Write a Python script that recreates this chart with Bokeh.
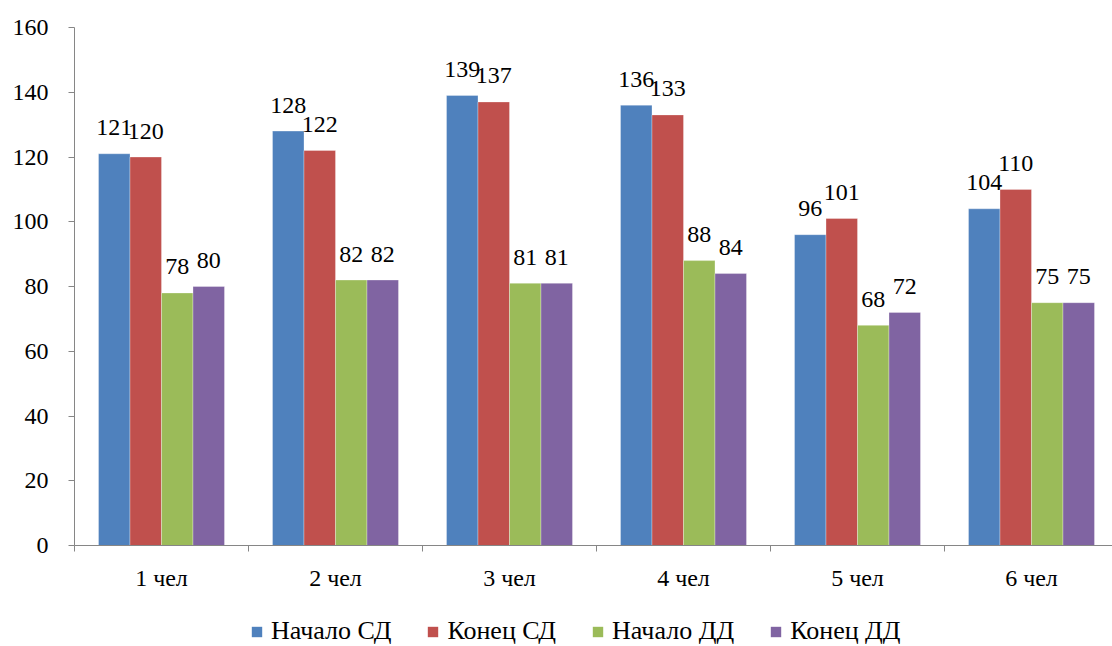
from bokeh.plotting import figure
from bokeh.layouts import column
from bokeh.models import FixedTicker, Legend, LegendItem, ColumnDataSource
from bokeh.core.properties import value
from bokeh.embed import file_html
from bokeh.resources import INLINE

# --- data ---
categories = ["1 чел", "2 чел", "3 чел", "4 чел", "5 чел", "6 чел"]
series_names = ["Начало СД", "Конец СД", "Начало ДД", "Конец ДД"]
nachalo_sd = [121, 128, 139, 136, 96, 104]
konec_sd = [120, 122, 137, 133, 101, 110]
nachalo_dd = [78, 82, 81, 88, 68, 75]
konec_dd = [80, 82, 81, 84, 72, 75]
y_ticks = [0, 20, 40, 60, 80, 100, 120, 140, 160]

series_values = [nachalo_sd, konec_sd, nachalo_dd, konec_dd]
colors = ["#4F81BD", "#C0504D", "#9BBB59", "#8064A2"]

FONT = "Liberation Serif"
AXIS_GRAY = "#868686"
BAR_W = 0.181  # width of one bar in category units

n_cat = len(categories)

# ---- main bar chart ----
p = figure(
    width=1112, height=600,
    x_range=(0, 5.9655), y_range=(0, 160),
    output_backend="svg", toolbar_location=None,
)
p.min_border = 0
p.min_border_left = 74
p.min_border_right = 0
p.min_border_top = 27
p.min_border_bottom = 55
p.outline_line_color = None
p.xgrid.visible = False
p.ygrid.visible = False
p.background_fill_color = "white"
p.border_fill_color = "white"

for i, (vals, col) in enumerate(zip(series_values, colors)):
    xs = [c + 0.5 + (i - 1.5) * BAR_W for c in range(n_cat)]
    src = ColumnDataSource(dict(x=xs, top=vals, label=[str(v) for v in vals]))
    p.vbar(x="x", top="top", width=BAR_W, bottom=0, source=src,
           fill_color=col, line_color="white", line_width=0.6, line_alpha=0.5)
    p.text(x="x", y="top", text="label", source=src,
           text_font=value(FONT), text_font_size="24px", text_color="black",
           text_align="center", text_baseline="alphabetic", y_offset=-26)

# y axis
yax = p.yaxis[0]
yax.ticker = FixedTicker(ticks=y_ticks)
yax.axis_line_color = AXIS_GRAY
yax.major_tick_line_color = AXIS_GRAY
yax.major_tick_out = 6
yax.major_tick_in = 0
yax.minor_tick_line_color = None
yax.major_label_text_font = FONT
yax.major_label_text_font_size = "24px"
yax.major_label_text_color = "black"
yax.major_label_standoff = 20

# x axis: labels at category centres, tick marks at category boundaries
xax = p.xaxis[0]
xax.ticker = FixedTicker(ticks=[c + 0.5 for c in range(n_cat)],
                         minor_ticks=list(range(n_cat + 1)))
xax.major_label_overrides = {c + 0.5: categories[c] for c in range(n_cat)}
xax.axis_line_color = AXIS_GRAY
xax.major_tick_line_color = None
xax.major_tick_out = 0
xax.major_tick_in = 0
xax.minor_tick_line_color = AXIS_GRAY
xax.minor_tick_out = 6
xax.minor_tick_in = 0
xax.major_label_text_font = FONT
xax.major_label_text_font_size = "24px"
xax.major_label_text_color = "black"
xax.major_label_standoff = 13

# ---- legend strip under the chart ----
lg = figure(
    width=1112, height=46, x_range=(0, 1), y_range=(0, 1),
    output_backend="svg", toolbar_location=None,
    x_axis_location=None, y_axis_location=None,
)
lg.min_border = 0
lg.outline_line_color = None
lg.xgrid.visible = False
lg.ygrid.visible = False
lg.border_fill_color = "white"

# zero-height proxy bars: they give each legend entry its colour swatch
swatches = []
for name, col in zip(series_names, colors):
    proxy = ColumnDataSource(dict(x=[0.0], top=[0.0]))
    swatches.append(lg.vbar(x="x", top="top", bottom=0, width=0.0, source=proxy,
                            fill_color=col, line_color=None))

legend = Legend(
    items=[LegendItem(label=n, renderers=[r]) for n, r in zip(series_names, swatches)],
    orientation="horizontal",
    location=(176, 0),
    glyph_width=13, glyph_height=13,
    label_standoff=8, spacing=35, padding=0, margin=0,
    label_text_font=FONT, label_text_font_size="26px", label_text_color="black",
    border_line_color=None, background_fill_alpha=0,
)
lg.add_layout(legend, "center")

layout = column(p, lg, spacing=0)
open("out.html", "w").write(file_html(layout, INLINE))
